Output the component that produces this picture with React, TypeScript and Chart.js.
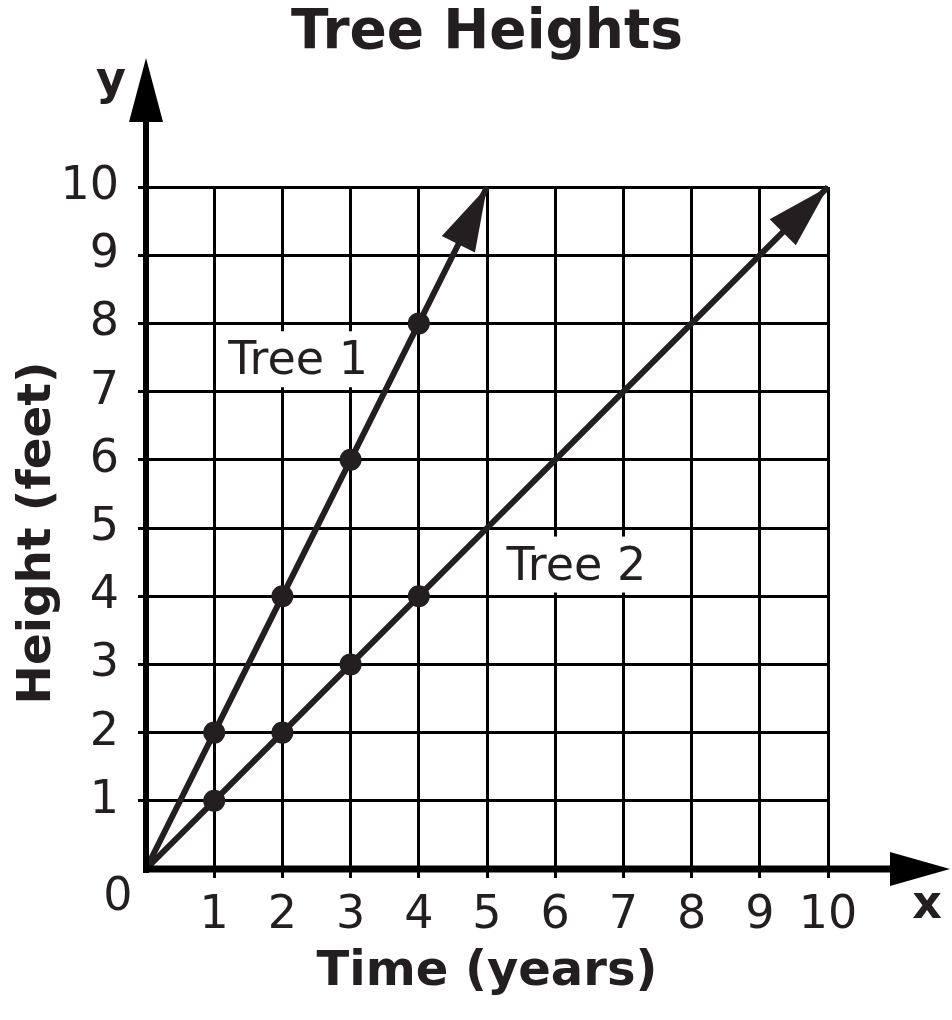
import { useEffect, useRef } from 'react';
import { Chart, registerables } from 'chart.js';

Chart.register(...registerables);

// ---- data ----
const tree1Years = [0, 1, 2, 3, 4, 5];
const tree1Heights = [0, 2, 4, 6, 8, 10];
const tree2Years = [0, 1, 2, 3, 4, 5, 6, 7, 8, 9, 10];
const tree2Heights = [0, 1, 2, 3, 4, 5, 6, 7, 8, 9, 10];
const tree1Marked = [1, 2, 3, 4];
const tree2Marked = [1, 2, 3, 4];
const seriesNames = ['Tree 1', 'Tree 2'];
const xTickLabels = ['', '1', '2', '3', '4', '5', '6', '7', '8', '9', '10'];
const yTickLabels = ['', '1', '2', '3', '4', '5', '6', '7', '8', '9', '10'];
const originLabel = '0';
const chartTitle = 'Tree Heights';
const xTitle = 'Time (years)';
const yTitle = 'Height (feet)';
const xAxisLetter = 'x';
const yAxisLetter = 'y';
// label anchor positions in data units (x, y)
const labelAnchorX = [2.23, 6.31];
const labelAnchorY = [7.43, 4.42];

const INK = '#231f20';
const FONT = '"DejaVu Sans", Verdana, sans-serif';

function arrowHead(ctx: CanvasRenderingContext2D, tipX: number, tipY: number, dx: number, dy: number, len: number, half: number) {
  const d = Math.hypot(dx, dy) || 1;
  const ux = dx / d;
  const uy = dy / d;
  const bx = tipX - ux * len;
  const by = tipY - uy * len;
  ctx.beginPath();
  ctx.moveTo(tipX, tipY);
  ctx.lineTo(bx - uy * half, by + ux * half);
  ctx.lineTo(bx + uy * half, by - ux * half);
  ctx.closePath();
  ctx.fill();
}

const decorPlugin = {
  id: 'decor',
  beforeDatasetsDraw(chart: any) {
    const ctx: CanvasRenderingContext2D = chart.ctx;
    const xs = chart.scales.x;
    const ys = chart.scales.y;
    ctx.save();
    ctx.font = `46px ${FONT}`;
    ctx.textAlign = 'center';
    ctx.textBaseline = 'middle';
    seriesNames.forEach((name, i) => {
      const cx = xs.getPixelForValue(labelAnchorX[i]);
      const cy = ys.getPixelForValue(labelAnchorY[i]);
      const w = ctx.measureText(name).width;
      ctx.fillStyle = '#ffffff';
      ctx.fillRect(cx - w / 2 - 9, cy - 31, w + 18, 56);
      ctx.fillStyle = INK;
      ctx.fillText(name, cx, cy);
    });
    ctx.restore();
  },
  afterDatasetsDraw(chart: any) {
    const ctx: CanvasRenderingContext2D = chart.ctx;
    const area = chart.chartArea;
    const x0 = area.left;
    const y0 = area.bottom;
    ctx.save();
    ctx.fillStyle = '#000';
    ctx.strokeStyle = '#000';
    // y axis
    ctx.lineWidth = 6;
    ctx.beginPath();
    ctx.moveTo(x0, y0 + 4);
    ctx.lineTo(x0, 118);
    ctx.stroke();
    arrowHead(ctx, x0, 58, 0, -1, 64, 17);
    // x axis
    ctx.lineWidth = 7;
    ctx.beginPath();
    ctx.moveTo(x0 - 3, y0);
    ctx.lineTo(894, y0);
    ctx.stroke();
    arrowHead(ctx, 950, y0, 1, 0, 60, 17);

    // dataset arrowheads
    ctx.fillStyle = INK;
    chart.data.datasets.forEach((_ds: any, i: number) => {
      const meta = chart.getDatasetMeta(i);
      const pts = meta.data;
      const a = pts[pts.length - 2];
      const b = pts[pts.length - 1];
      arrowHead(ctx, b.x, b.y, b.x - a.x, b.y - a.y, 64, 18.5);
    });

    // texts
    ctx.fillStyle = INK;
    ctx.textAlign = 'center';
    ctx.textBaseline = 'alphabetic';
    ctx.font = `bold 55px ${FONT}`;
    ctx.fillText(chartTitle, (area.left + area.right) / 2, 48);
    ctx.font = `bold 48px ${FONT}`;
    ctx.fillText(xTitle, (area.left + area.right) / 2, 985);
    ctx.save();
    ctx.translate(50, 533);
    ctx.rotate(-Math.PI / 2);
    ctx.font = `bold 47px ${FONT}`;
    ctx.fillText(yTitle, 0, 0);
    ctx.restore();
    ctx.font = `bold 46px ${FONT}`;
    ctx.fillText(yAxisLetter, 111, 94);
    ctx.fillText(xAxisLetter, 927, 918);
    ctx.font = `46px ${FONT}`;
    ctx.fillText(originLabel, 118, 910);
    ctx.restore();
  },
};

export default function App() {
  const ref = useRef<HTMLCanvasElement | null>(null);
  useEffect(() => {
    if (!ref.current) return;
    const gridColor = (c: any) => (c.tick && c.tick.value === 0 ? 'rgba(0,0,0,0)' : '#000');
    const chart = new Chart(ref.current, {
      type: 'line',
      data: {
        datasets: [
          {
            label: seriesNames[0],
            data: tree1Years.map((x, i) => ({ x, y: tree1Heights[i] })),
            borderColor: INK,
            backgroundColor: INK,
            borderWidth: 6,
            pointRadius: tree1Years.map((x) => (tree1Marked.includes(x) ? 11 : 0)),
            pointBackgroundColor: INK,
            pointBorderWidth: 0,
            tension: 0,
            clip: false as any,
          },
          {
            label: seriesNames[1],
            data: tree2Years.map((x, i) => ({ x, y: tree2Heights[i] })),
            borderColor: INK,
            backgroundColor: INK,
            borderWidth: 6,
            pointRadius: tree2Years.map((x) => (tree2Marked.includes(x) ? 11 : 0)),
            pointBackgroundColor: INK,
            pointBorderWidth: 0,
            tension: 0,
            clip: false as any,
          },
        ],
      },
      options: {
        responsive: false,
        animation: false,
        devicePixelRatio: 1,
        layout: { padding: { top: 187, right: 124, left: 0, bottom: 0 } },
        plugins: { legend: { display: false }, tooltip: { enabled: false }, title: { display: false } },
        scales: {
          x: {
            type: 'linear',
            min: 0,
            max: 10,
            afterFit: (s: any) => {
              s.height = 151;
            },
            border: { display: false },
            grid: { color: gridColor, lineWidth: 3, tickLength: 9, drawTicks: true },
            ticks: {
              stepSize: 1,
              autoSkip: false,
              maxRotation: 0,
              padding: 10,
              color: INK,
              font: { family: FONT, size: 46 },
              callback: (_v: any, i: number) => xTickLabels[i],
            },
          },
          y: {
            type: 'linear',
            min: 0,
            max: 10,
            afterFit: (s: any) => {
              s.width = 146;
            },
            border: { display: false },
            grid: { color: gridColor, lineWidth: 3, tickLength: 8, drawTicks: true },
            ticks: {
              stepSize: 1,
              autoSkip: false,
              padding: 19,
              color: INK,
              font: { family: FONT, size: 46 },
              callback: (_v: any, i: number) => yTickLabels[i],
            },
          },
        },
      },
      plugins: [decorPlugin],
    } as any);
    return () => chart.destroy();
  }, []);
  return (
    <div style={{ position: 'absolute', left: 0, top: 0, width: 952, height: 1020, background: '#fff' }}>
      <canvas ref={ref} width={952} height={1020} style={{ display: 'block' }} />
    </div>
  );
}
